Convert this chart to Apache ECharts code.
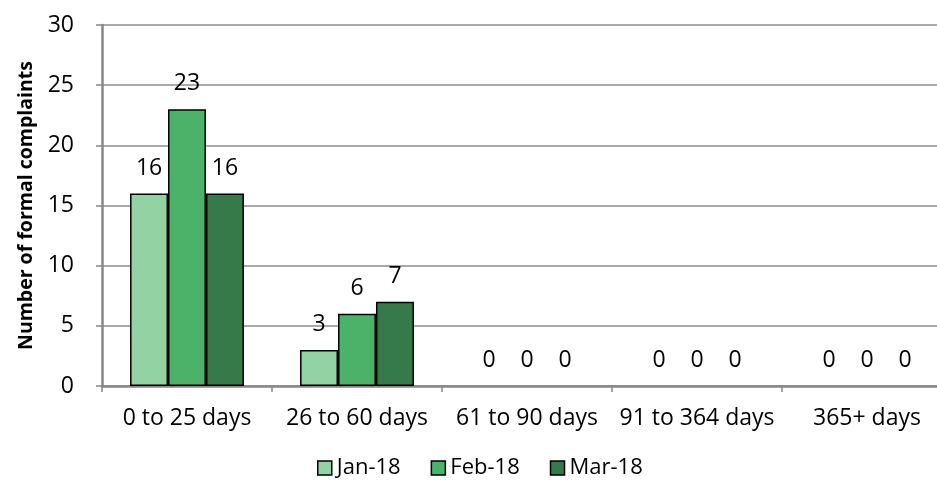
<!DOCTYPE html>
<html>
<head>
<meta charset="utf-8">
<script src="https://cdn.jsdelivr.net/npm/echarts@6/dist/echarts.min.js"></script>
<style>
  html, body { margin: 0; padding: 0; background: #fff; }
  #chart { width: 937px; height: 488px; }
</style>
</head>
<body>
<div id="chart"></div>
<script>
// Formal complaints by time taken to resolve, per month
const categories = ['0 to 25 days', '26 to 60 days', '61 to 90 days', '91 to 364 days', '365+ days'];
const seriesNames = ['Jan-18', 'Feb-18', 'Mar-18'];
const jan18 = [16, 3, 0, 0, 0];
const feb18 = [23, 6, 0, 0, 0];
const mar18 = [16, 7, 0, 0, 0];
const yTicks = { min: 0, max: 30, interval: 5 };

const colors = ['#93d2a2', '#4cb26a', '#367a4a'];
const FONT = '"Open Sans", "Noto Sans", sans-serif';

// Zero-height bars get no outline so the axis line stays grey
function toItems(values) {
  return values.map(v => (v === 0 ? { value: v, itemStyle: { borderWidth: 0 } } : v));
}

function barSeries(name, data, color) {
  return {
    name: name,
    type: 'bar',
    data: toItems(data),
    barGap: '0%',
    barCategoryGap: '33%',
    itemStyle: { color: color, borderColor: '#000', borderWidth: 1.5 },
    label: {
      show: true,
      position: 'top',
      distance: 14,
      color: '#000',
      fontFamily: FONT,
      fontSize: 23
    }
  };
}

const chart = echarts.init(document.getElementById('chart'), null, { renderer: 'canvas' });
chart.setOption({
  animation: false,
  backgroundColor: '#fff',
  grid: { left: 102, top: 25, width: 850, height: 361, containLabel: false, outerBoundsMode: 'none' },
  legend: {
    data: seriesNames,
    top: 452,
    left: 312,
    icon: 'rect',
    itemWidth: 14,
    itemHeight: 14,
    itemGap: 30,
    itemStyle: { borderColor: '#000', borderWidth: 1.5 },
    textStyle: { color: '#000', fontFamily: FONT, fontSize: 22 }
  },
  xAxis: {
    type: 'category',
    data: categories,
    axisLine: { lineStyle: { color: '#868686', width: 2.5 } },
    axisTick: { show: true, length: 6, lineStyle: { color: '#868686', width: 1.5 } },
    axisLabel: { color: '#000', fontFamily: FONT, fontSize: 23, margin: 21, interval: 0 }
  },
  yAxis: {
    type: 'value',
    min: yTicks.min,
    max: yTicks.max,
    interval: yTicks.interval,
    name: 'Number of formal complaints',
    nameLocation: 'middle',
    nameGap: 62,
    nameTextStyle: { color: '#000', fontFamily: FONT, fontSize: 19.5, fontWeight: 'bold' },
    axisLine: { show: true, lineStyle: { color: '#868686', width: 2.5 } },
    axisTick: { show: true, length: 6, lineStyle: { color: '#868686', width: 1.5 } },
    axisLabel: { color: '#000', fontFamily: FONT, fontSize: 23, margin: 28 },
    splitLine: { show: true, lineStyle: { color: '#8c8c8c', width: 1.5 } }
  },
  series: [
    barSeries(seriesNames[0], jan18, colors[0]),
    barSeries(seriesNames[1], feb18, colors[1]),
    barSeries(seriesNames[2], mar18, colors[2])
  ]
});
</script>
</body>
</html>
